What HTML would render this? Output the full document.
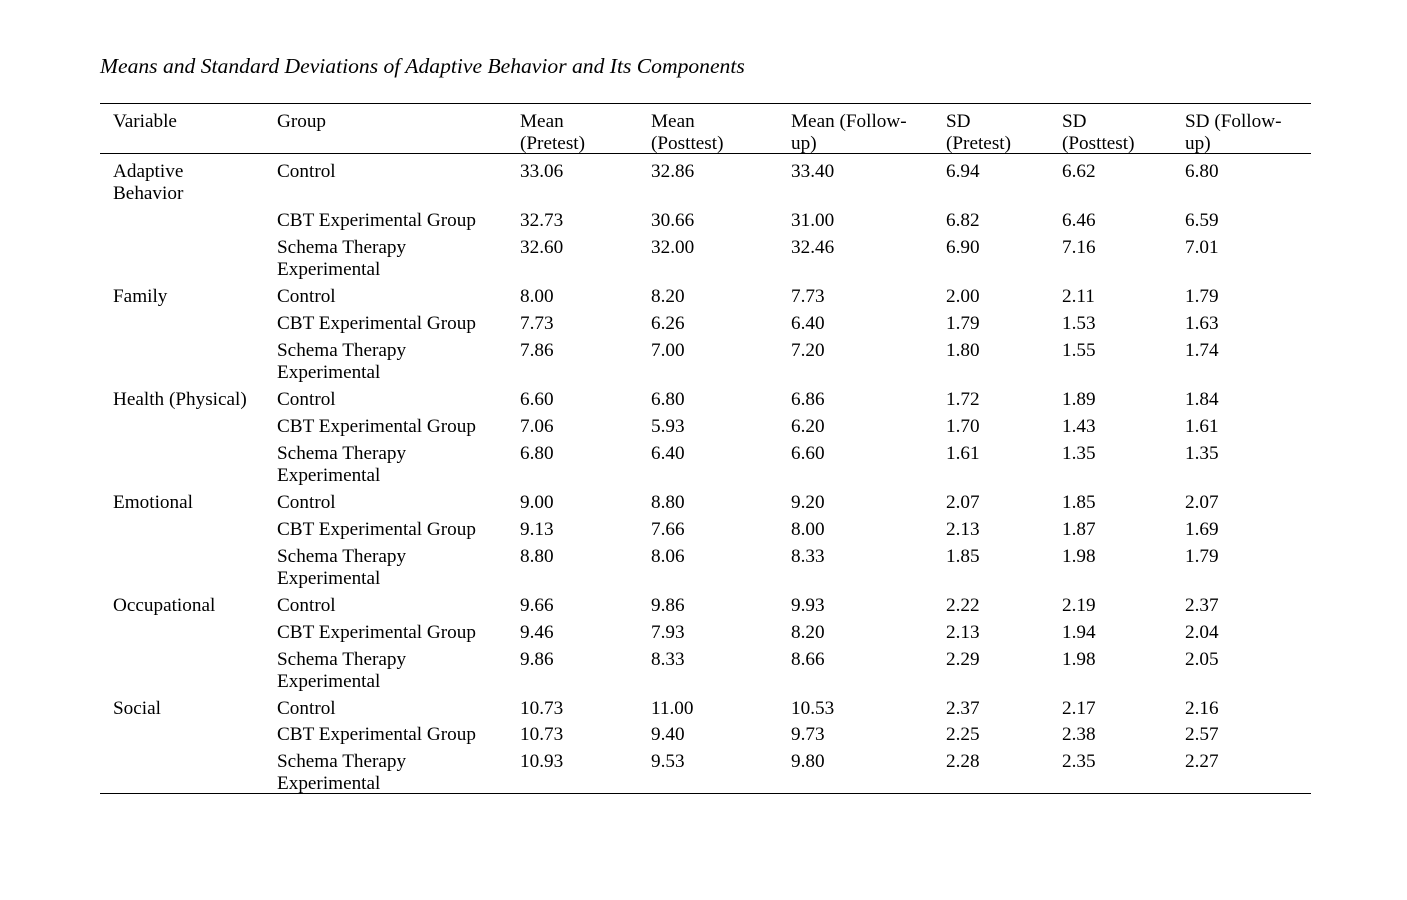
<!DOCTYPE html>
<html><head><meta charset="utf-8"><style>
html,body{margin:0;padding:0;background:#fff;}
body{width:1407px;height:900px;position:relative;overflow:hidden;font-family:"Liberation Serif","Times New Roman",serif;color:#000;}
.t{position:absolute;left:100px;top:52px;font-style:italic;font-size:21.6px;line-height:28px;white-space:nowrap;}
.r{position:absolute;left:100px;width:1211px;height:0;border-top:1.3px solid #000;}
.c{position:absolute;font-size:19.2px;line-height:22px;white-space:nowrap;}
.a{left:113px}.b{left:277px}.m1{left:520px}.m2{left:651px}.m3{left:791px}.s1{left:946px}.s2{left:1062px}.s3{left:1185px}
</style></head><body>
<div class="t">Means and Standard Deviations of Adaptive Behavior and Its Components</div>
<div class="r" style="top:103px"></div>
<div class="r" style="top:153px"></div>
<div class="r" style="top:793px"></div>

<div style="position:absolute;top:111px;left:0;width:1407px">
<div class="c a">Variable</div><div class="c b">Group</div><div class="c m1">Mean<br>(Pretest)</div><div class="c m2">Mean<br>(Posttest)</div><div class="c m3">Mean (Follow-<br>up)</div><div class="c s1">SD<br>(Pretest)</div><div class="c s2">SD<br>(Posttest)</div><div class="c s3">SD (Follow-<br>up)</div>
</div>

<div style="position:absolute;top:161px;left:0;width:1407px">
<div class="c a">Adaptive<br>Behavior</div><div class="c b">Control</div><div class="c m1">33.06</div><div class="c m2">32.86</div><div class="c m3">33.40</div><div class="c s1">6.94</div><div class="c s2">6.62</div><div class="c s3">6.80</div>
</div>
<div style="position:absolute;top:210px;left:0;width:1407px">
<div class="c b">CBT Experimental Group</div><div class="c m1">32.73</div><div class="c m2">30.66</div><div class="c m3">31.00</div><div class="c s1">6.82</div><div class="c s2">6.46</div><div class="c s3">6.59</div>
</div>
<div style="position:absolute;top:237px;left:0;width:1407px">
<div class="c b">Schema Therapy<br>Experimental</div><div class="c m1">32.60</div><div class="c m2">32.00</div><div class="c m3">32.46</div><div class="c s1">6.90</div><div class="c s2">7.16</div><div class="c s3">7.01</div>
</div>

<div style="position:absolute;top:286px;left:0;width:1407px">
<div class="c a">Family</div><div class="c b">Control</div><div class="c m1">8.00</div><div class="c m2">8.20</div><div class="c m3">7.73</div><div class="c s1">2.00</div><div class="c s2">2.11</div><div class="c s3">1.79</div>
</div>
<div style="position:absolute;top:313px;left:0;width:1407px">
<div class="c b">CBT Experimental Group</div><div class="c m1">7.73</div><div class="c m2">6.26</div><div class="c m3">6.40</div><div class="c s1">1.79</div><div class="c s2">1.53</div><div class="c s3">1.63</div>
</div>
<div style="position:absolute;top:340px;left:0;width:1407px">
<div class="c b">Schema Therapy<br>Experimental</div><div class="c m1">7.86</div><div class="c m2">7.00</div><div class="c m3">7.20</div><div class="c s1">1.80</div><div class="c s2">1.55</div><div class="c s3">1.74</div>
</div>

<div style="position:absolute;top:389px;left:0;width:1407px">
<div class="c a">Health (Physical)</div><div class="c b">Control</div><div class="c m1">6.60</div><div class="c m2">6.80</div><div class="c m3">6.86</div><div class="c s1">1.72</div><div class="c s2">1.89</div><div class="c s3">1.84</div>
</div>
<div style="position:absolute;top:416px;left:0;width:1407px">
<div class="c b">CBT Experimental Group</div><div class="c m1">7.06</div><div class="c m2">5.93</div><div class="c m3">6.20</div><div class="c s1">1.70</div><div class="c s2">1.43</div><div class="c s3">1.61</div>
</div>
<div style="position:absolute;top:443px;left:0;width:1407px">
<div class="c b">Schema Therapy<br>Experimental</div><div class="c m1">6.80</div><div class="c m2">6.40</div><div class="c m3">6.60</div><div class="c s1">1.61</div><div class="c s2">1.35</div><div class="c s3">1.35</div>
</div>

<div style="position:absolute;top:492px;left:0;width:1407px">
<div class="c a">Emotional</div><div class="c b">Control</div><div class="c m1">9.00</div><div class="c m2">8.80</div><div class="c m3">9.20</div><div class="c s1">2.07</div><div class="c s2">1.85</div><div class="c s3">2.07</div>
</div>
<div style="position:absolute;top:519px;left:0;width:1407px">
<div class="c b">CBT Experimental Group</div><div class="c m1">9.13</div><div class="c m2">7.66</div><div class="c m3">8.00</div><div class="c s1">2.13</div><div class="c s2">1.87</div><div class="c s3">1.69</div>
</div>
<div style="position:absolute;top:546px;left:0;width:1407px">
<div class="c b">Schema Therapy<br>Experimental</div><div class="c m1">8.80</div><div class="c m2">8.06</div><div class="c m3">8.33</div><div class="c s1">1.85</div><div class="c s2">1.98</div><div class="c s3">1.79</div>
</div>

<div style="position:absolute;top:595px;left:0;width:1407px">
<div class="c a">Occupational</div><div class="c b">Control</div><div class="c m1">9.66</div><div class="c m2">9.86</div><div class="c m3">9.93</div><div class="c s1">2.22</div><div class="c s2">2.19</div><div class="c s3">2.37</div>
</div>
<div style="position:absolute;top:622px;left:0;width:1407px">
<div class="c b">CBT Experimental Group</div><div class="c m1">9.46</div><div class="c m2">7.93</div><div class="c m3">8.20</div><div class="c s1">2.13</div><div class="c s2">1.94</div><div class="c s3">2.04</div>
</div>
<div style="position:absolute;top:649px;left:0;width:1407px">
<div class="c b">Schema Therapy<br>Experimental</div><div class="c m1">9.86</div><div class="c m2">8.33</div><div class="c m3">8.66</div><div class="c s1">2.29</div><div class="c s2">1.98</div><div class="c s3">2.05</div>
</div>

<div style="position:absolute;top:698px;left:0;width:1407px">
<div class="c a">Social</div><div class="c b">Control</div><div class="c m1">10.73</div><div class="c m2">11.00</div><div class="c m3">10.53</div><div class="c s1">2.37</div><div class="c s2">2.17</div><div class="c s3">2.16</div>
</div>
<div style="position:absolute;top:724px;left:0;width:1407px">
<div class="c b">CBT Experimental Group</div><div class="c m1">10.73</div><div class="c m2">9.40</div><div class="c m3">9.73</div><div class="c s1">2.25</div><div class="c s2">2.38</div><div class="c s3">2.57</div>
</div>
<div style="position:absolute;top:751px;left:0;width:1407px">
<div class="c b">Schema Therapy<br>Experimental</div><div class="c m1">10.93</div><div class="c m2">9.53</div><div class="c m3">9.80</div><div class="c s1">2.28</div><div class="c s2">2.35</div><div class="c s3">2.27</div>
</div>
</body></html>
